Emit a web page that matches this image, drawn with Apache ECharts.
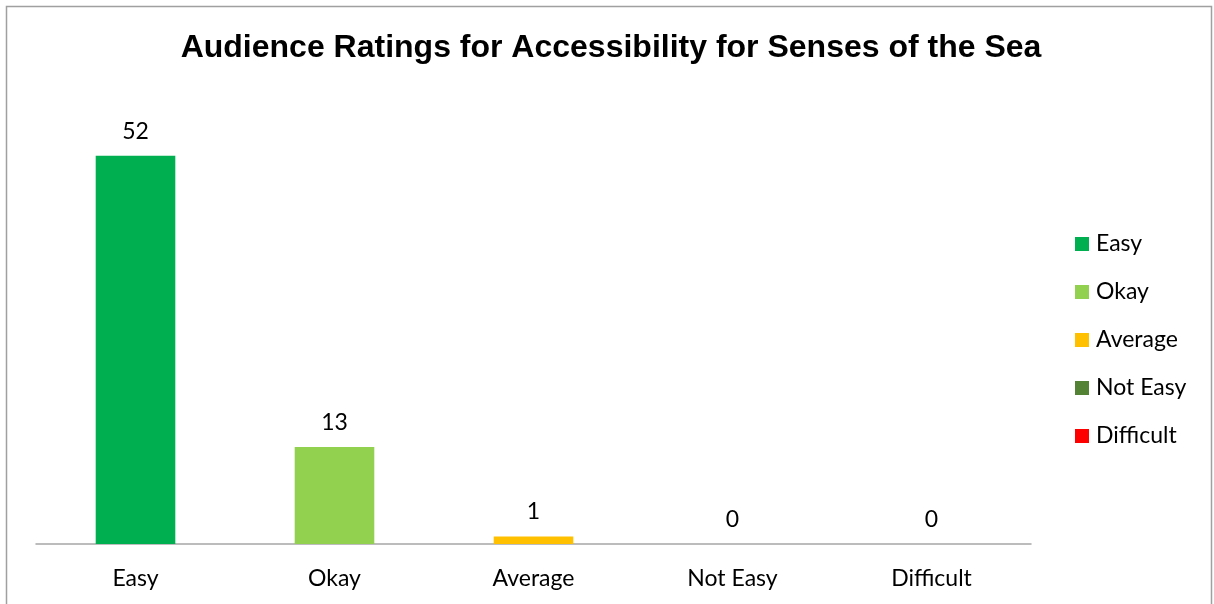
<!DOCTYPE html>
<html>
<head>
<meta charset="utf-8">
<script src="https://cdn.jsdelivr.net/npm/echarts@6/dist/echarts.min.js"></script>
<style>
  html, body { margin: 0; padding: 0; background: #fff; }
  #main { width: 1214px; height: 604px; }
</style>
</head>
<body>
<div id="main"></div>
<script>
// data
const categories = ['Easy', 'Okay', 'Average', 'Not Easy', 'Difficult']
const ratings = [52, 13, 1, 0, 0]
const colors = ['#00B050', '#92D050', '#FFC000', '#548235', '#FF0000']

const chart = echarts.init(document.getElementById('main'))

// one series per rating so every category gets its own legend entry
const series = categories.map((name, i) => ({
  name: name,
  type: 'bar',
  stack: 'all',
  barWidth: '40%',
  itemStyle: { color: colors[i] },
  label: {
    show: true,
    position: 'top',
    distance: 13,
    color: '#000',
    fontFamily: 'Lato',
    fontSize: 23
  },
  data: ratings.map((v, j) => (j === i ? v : '-'))
}))

const option = {
  animation: false,
  title: {
    text: 'Audience Ratings for Accessibility for Senses of the Sea',
    left: 606,
    top: 27,
    textAlign: 'center',
    textStyle: {
      fontFamily: 'Liberation Sans',
      fontWeight: 'bold',
      fontSize: 32,
      color: '#000'
    }
  },
  legend: {
    orient: 'vertical',
    left: 1070,
    top: 227,
    itemWidth: 14,
    itemHeight: 14,
    itemGap: 24,
    icon: 'rect',
    data: categories,
    textStyle: {
      fontFamily: 'Lato',
      fontSize: 23,
      lineHeight: 24,
      color: '#000',
      padding: [0, 0, 0, 2]
    }
  },
  grid: {
    left: 36,
    right: 183,
    top: 96,
    bottom: 60
  },
  xAxis: {
    type: 'category',
    data: categories,
    axisLine: { lineStyle: { color: '#a6a6a6', width: 1.5 } },
    axisTick: { show: false },
    axisLabel: {
      margin: 23,
      color: '#000',
      fontFamily: 'Lato',
      fontSize: 23
    }
  },
  yAxis: {
    type: 'value',
    min: 0,
    max: 60,
    show: false
  },
  graphic: [{
    type: 'rect',
    shape: { x: 6.5, y: 6.5, width: 1205, height: 640 },
    style: { fill: 'none', stroke: '#a0a0a0', lineWidth: 1.5 },
    silent: true
  }],
  series: series
}

chart.setOption(option)
</script>
</body>
</html>
